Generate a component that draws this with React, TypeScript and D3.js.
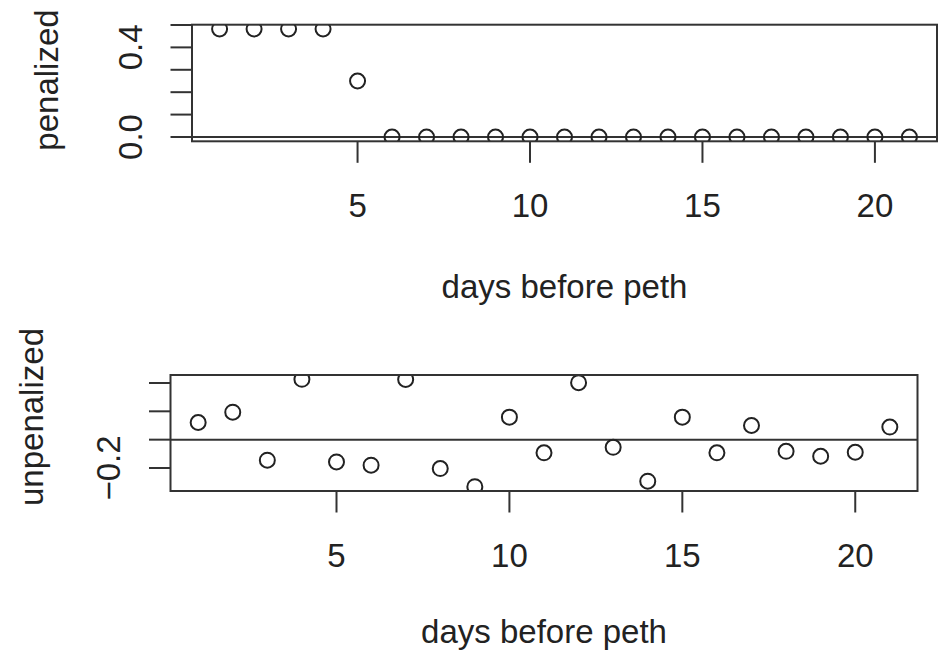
import React from "react";
import * as d3 from "d3";

// ---- data ----
const days = [1, 2, 3, 4, 5, 6, 7, 8, 9, 10, 11, 12, 13, 14, 15, 16, 17, 18, 19, 20, 21];
const penalized = [0.482, 0.482, 0.482, 0.482, 0.25, 0, 0, 0, 0, 0, 0, 0, 0, 0, 0, 0, 0, 0, 0, 0, 0];
const unpenalized = [
  0.121, 0.194, -0.145, 0.426, -0.157, -0.18, 0.425, -0.204, -0.332, 0.159, -0.093,
  0.402, -0.054, -0.293, 0.159, -0.093, 0.1, -0.082, -0.117, -0.089, 0.089,
];
const xTicks = [5, 10, 15, 20];
const topYTicks = [0, 0.1, 0.2, 0.3, 0.4, 0.5];
const topYLabelValues = [0, 0.4];
const topYLabelTexts = ["0.0", "0.4"];
const bottomYTicks = [-0.2, 0, 0.2, 0.4];
const bottomYLabelValues = [-0.2];
const bottomYLabelTexts = ["\u22120.2"];
const xTitle = "days before peth";
const topYTitle = "penalized";
const bottomYTitle = "unpenalized";

const FONT = "'Liberation Sans', Arial, Helvetica, sans-serif";
const FS = 33;
const LINE = "#333";
const PT = "#222";

function expand(ext: [number, number]): [number, number] {
  const d = ext[1] - ext[0];
  return [ext[0] - 0.04 * d, ext[1] + 0.04 * d];
}

type PanelProps = {
  id: string;
  values: number[];
  left: number;
  right: number;
  top: number;
  bottom: number;
  yTicks: number[];
  yLabelValues: number[];
  yLabelTexts: string[];
  yLabelX: number;
  yTitle: string;
  yTitleX: number;
  yTitleY: number;
  xLabelY: number;
  xTitleY: number;
};

function Panel(p: PanelProps) {
  const xExt = d3.extent(days) as [number, number];
  const yExt = d3.extent(p.values) as [number, number];
  const x = d3.scaleLinear().domain(expand(xExt)).range([p.left, p.right]);
  const y = d3.scaleLinear().domain(expand(yExt)).range([p.bottom, p.top]);
  const tick = 21.5;
  const cx = (p.left + p.right) / 2;
  return (
    <g>
      <defs>
        <clipPath id={`clip-${p.id}`}>
          <rect x={p.left} y={p.top} width={p.right - p.left} height={p.bottom - p.top} />
        </clipPath>
      </defs>
      {/* h = 0 reference line */}
      <line x1={p.left} x2={p.right} y1={y(0)} y2={y(0)} stroke={LINE} strokeWidth={2} />
      {/* points */}
      <g clipPath={`url(#clip-${p.id})`}>
        {days.map((d, i) => (
          <circle key={i} cx={x(d)} cy={y(p.values[i])} r={7.5} fill="none" stroke={PT} strokeWidth={2} />
        ))}
      </g>
      {/* box */}
      <rect x={p.left} y={p.top} width={p.right - p.left} height={p.bottom - p.top} fill="none" stroke={LINE} strokeWidth={2} />
      {/* y axis ticks */}
      {p.yTicks.map((t, i) => (
        <line key={i} x1={p.left - tick} x2={p.left} y1={y(t)} y2={y(t)} stroke={LINE} strokeWidth={2} />
      ))}
      {p.yLabelValues.map((v, i) => (
        <text key={i} transform={`translate(${p.yLabelX},${y(v)}) rotate(-90)`} textAnchor="middle"
          fontFamily={FONT} fontSize={FS} fill="#222">{p.yLabelTexts[i]}</text>
      ))}
      {/* x axis ticks */}
      {xTicks.map((t, i) => (
        <g key={i}>
          <line x1={x(t)} x2={x(t)} y1={p.bottom} y2={p.bottom + tick} stroke={LINE} strokeWidth={2} />
          <text x={x(t)} y={p.xLabelY} textAnchor="middle" fontFamily={FONT} fontSize={FS} fill="#222">{t}</text>
        </g>
      ))}
      <text x={cx} y={p.xTitleY} textAnchor="middle" fontFamily={FONT} fontSize={FS} fill="#222">{xTitle}</text>
      <text transform={`translate(${p.yTitleX},${p.yTitleY}) rotate(-90)`} textAnchor="middle"
        fontFamily={FONT} fontSize={FS} fill="#222">{p.yTitle}</text>
    </g>
  );
}

export default function App() {
  return (
    <svg width={938} height={663} style={{ position: "absolute", left: 0, top: 0, background: "#fff" }}>
      <rect width={938} height={663} fill="#fff" />
      <Panel id="top" values={penalized} left={192} right={937} top={24.7} bottom={141.3}
        yTicks={topYTicks} yLabelValues={topYLabelValues} yLabelTexts={topYLabelTexts} yLabelX={142}
        yTitle={topYTitle} yTitleX={58} yTitleY={80} xLabelY={217} xTitleY={298} />
      <Panel id="bottom" values={unpenalized} left={170.5} right={917.5} top={375} bottom={491}
        yTicks={bottomYTicks} yLabelValues={bottomYLabelValues} yLabelTexts={bottomYLabelTexts} yLabelX={120}
        yTitle={bottomYTitle} yTitleX={43} yTitleY={417} xLabelY={567} xTitleY={643} />
    </svg>
  );
}
